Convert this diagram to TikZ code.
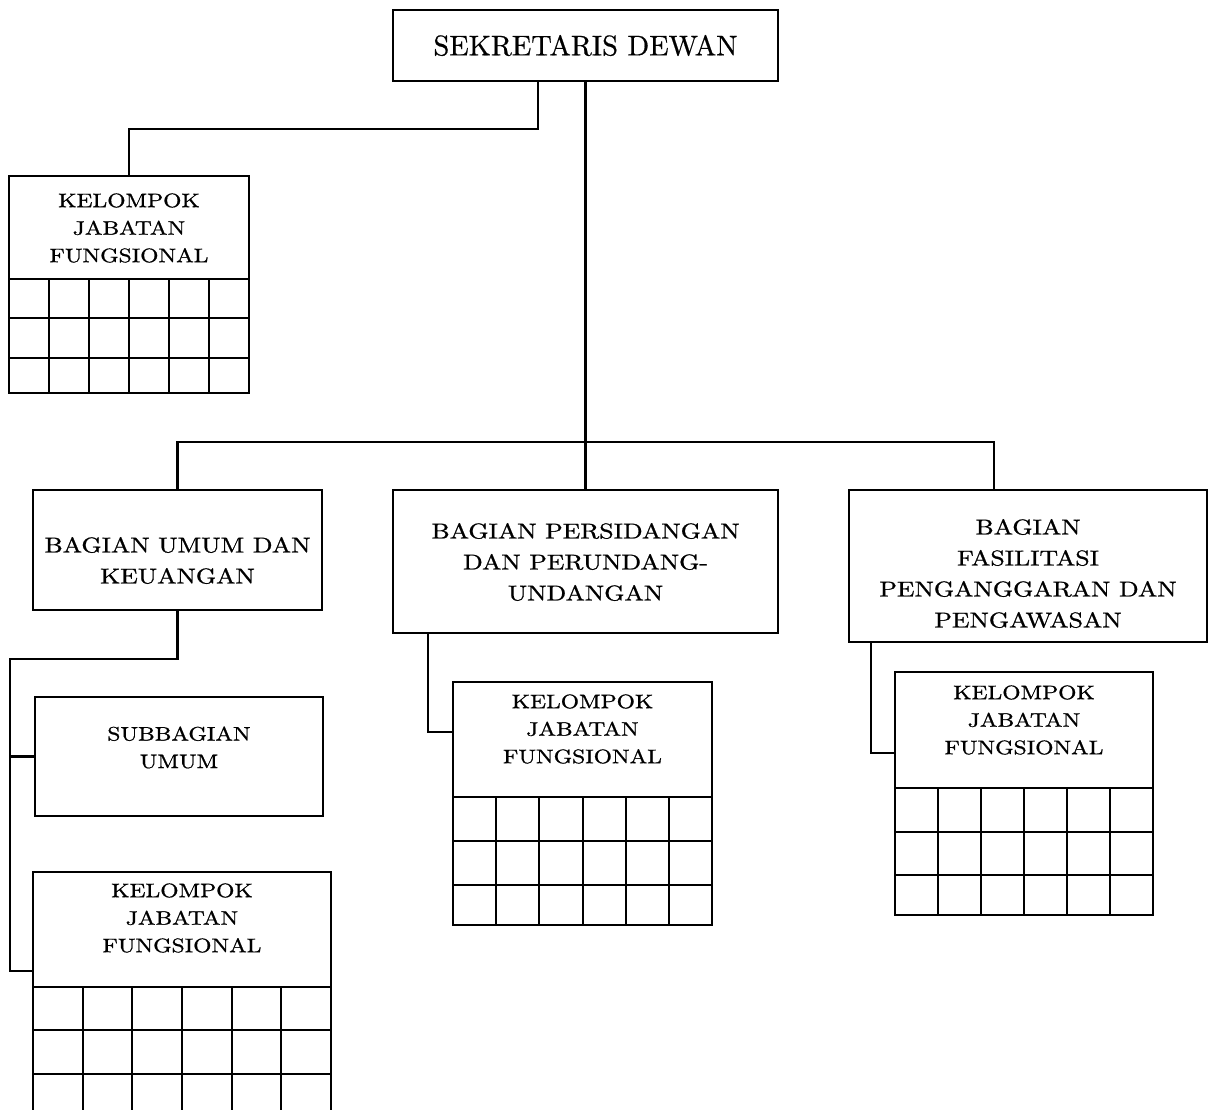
\documentclass[tikz,border=0pt]{standalone}
\usepackage{fontspec}
\newfontfamily\topfont{lmroman10-regular.otf}[FakeBold=0.6]
\newfontfamily\widefont{lmroman10-regular.otf}[FakeStretch=1.2,FakeBold=0.9]
\tikzset{
  box/.style={draw, line width=2.1pt, rectangle, inner sep=0pt, outer sep=0pt, anchor=north west},
  conn/.style={line width=2.1pt},
  gridl/.style={line width=2pt},
  toptext/.style={inner sep=0pt, font=\topfont\fontsize{28.5}{34}\selectfont},
  bigtext/.style={inner sep=0pt, align=center, font=\widefont\fontsize{21.5}{31}\selectfont},
  smalltext/.style={inner sep=0pt, align=center, font=\widefont\fontsize{19.6}{27.5}\selectfont}
}
\begin{document}
\begin{tikzpicture}[x=1pt, y=-1pt]
\useasboundingbox (0,0) rectangle (1209,1109);
\clip (0,0) rectangle (1209,1109);
\fill[white] (0,0) rectangle (1209,1109);

% boxes
\node[box, minimum width=385pt, minimum height=71pt] (top) at (393,10) {};
\node[box, minimum width=240pt, minimum height=217pt] (kjfA) at (9,176) {};
\node[box, minimum width=289pt, minimum height=120pt] (buk) at (33,490) {};
\node[box, minimum width=385pt, minimum height=143pt] (bpp) at (393,490) {};
\node[box, minimum width=358pt, minimum height=152pt] (bfpp) at (849,490) {};
\node[box, minimum width=288pt, minimum height=119pt] (sub) at (35,697) {};
\node[box, minimum width=298pt, minimum height=260pt] (kjfB) at (33,872) {};
\node[box, minimum width=259pt, minimum height=243pt] (kjfC) at (453,682) {};
\node[box, minimum width=258pt, minimum height=243pt] (kjfD) at (895,672) {};

% grids
\draw[gridl] (9,279) -- (249,279) (9,318) -- (249,318) (9,358) -- (249,358);
\foreach \i in {1,...,5} \draw[gridl] ({9+\i*40},279) -- ({9+\i*40},393);
\draw[gridl] (33,987) -- (331,987) (33,1030) -- (331,1030) (33,1074) -- (331,1074) (33,1118) -- (331,1118);
\foreach \i in {1,...,5} \draw[gridl] ({33+\i*298/6},987) -- ({33+\i*298/6},1132);
\draw[gridl] (453,797) -- (712,797) (453,841) -- (712,841) (453,885) -- (712,885);
\foreach \i in {1,...,5} \draw[gridl] ({453+\i*259/6},797) -- ({453+\i*259/6},925);
\draw[gridl] (895,788) -- (1153,788) (895,832) -- (1153,832) (895,875) -- (1153,875);
\foreach \i in {1,...,5} \draw[gridl] ({895+\i*43},788) -- ({895+\i*43},915);

% texts
\node[toptext] (topT) at (585.5,45.5) {SEKRETARIS DEWAN};
\node[smalltext] (kjfAT) at (129,228) {KELOMPOK\\JABATAN\\FUNGSIONAL};
\node[bigtext] (bukT) at (177.5,560.5) {BAGIAN UMUM DAN\\KEUANGAN};
\node[bigtext] (bppT) at (585.5,562) {BAGIAN PERSIDANGAN\\DAN PERUNDANG-\\UNDANGAN};
\node[bigtext] (bfppT) at (1028,573.5) {BAGIAN\\FASILITASI\\PENGANGGARAN DAN\\PENGAWASAN};
\node[smalltext] (subT) at (179,747.5) {SUBBAGIAN\\UMUM};
\node[smalltext] (kjfBT) at (182,918) {KELOMPOK\\JABATAN\\FUNGSIONAL};
\node[smalltext] (kjfCT) at (582.5,729) {KELOMPOK\\JABATAN\\FUNGSIONAL};
\node[smalltext] (kjfDT) at (1024,720) {KELOMPOK\\JABATAN\\FUNGSIONAL};

% helper coordinates
\coordinate (x538) at (538,0);
\coordinate (x994) at (994,0);
\coordinate (x10) at (10,0);
\coordinate (x428) at (428,0);
\coordinate (x871) at (871,0);
\coordinate (kjfBin) at (33,971);
\coordinate (kjfCin) at (453,732);
\coordinate (kjfDin) at (895,753);

% connectors
\draw[conn] (top.south -| x538) -- ++(0,48) -| (kjfA.north);
\draw[conn] (top.south) -- (bpp.north);
\draw[conn] (buk.north) -- ++(0,-48) -| (bfpp.north -| x994);
\draw[conn] (buk.south) -- ++(0,49) -| (kjfBin -| x10) -- (kjfBin);
\draw[conn] (sub.west -| x10) -- (sub.west);
\draw[conn] (bpp.south -| x428) |- (kjfCin);
\draw[conn] (bfpp.south -| x871) |- (kjfDin);
\end{tikzpicture}
\end{document}
